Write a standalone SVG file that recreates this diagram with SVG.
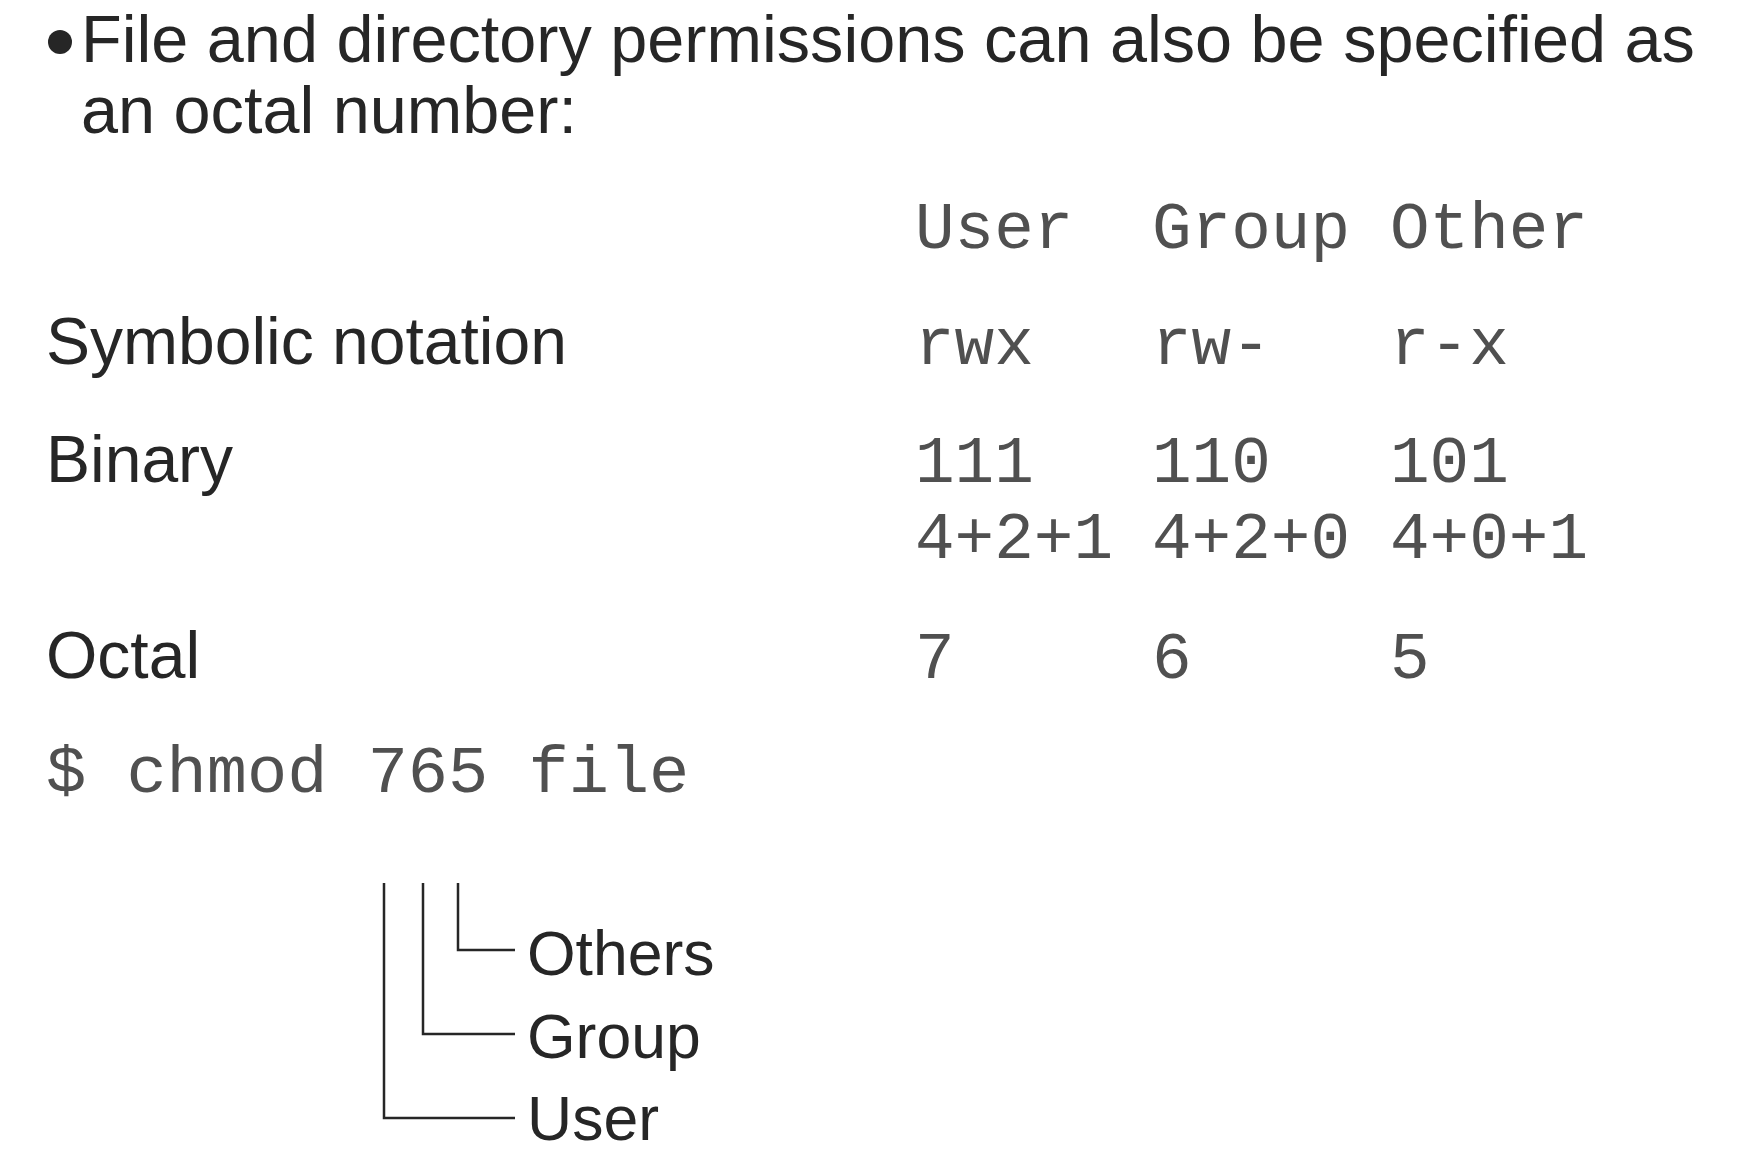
<svg xmlns="http://www.w3.org/2000/svg" width="1738" height="1175" viewBox="0 0 1738 1175">
  <style>
    .sans { font-family: "Liberation Sans", Arial, sans-serif; font-size: 66px; fill: #262626; }
    .title { font-size: 66.6px; }
    .lbl { font-family: "Liberation Sans", Arial, sans-serif; font-size: 62.5px; fill: #262626; }
    .mono { font-family: "Liberation Mono", "Courier New", monospace; font-size: 66px; fill: #505050; }
    .cmd { font-size: 67px; }
    .conn { fill: none; stroke: #262626; stroke-width: 2.5; }
  </style>
  <rect width="1738" height="1175" fill="#ffffff"/>

  <g id="intro">
    <circle cx="60" cy="42" r="12" fill="#262626"/>
    <text class="sans title" x="81" y="62">File and directory permissions can also be specified as</text>
    <text class="sans title" x="81" y="133">an octal number:</text>
  </g>

  <g id="header">
    <text class="mono" x="915" y="248">User</text>
    <text class="mono" x="1152" y="248">Group</text>
    <text class="mono" x="1390" y="248">Other</text>
  </g>

  <g id="row-symbolic">
    <text class="sans" x="46" y="364">Symbolic notation</text>
    <text class="mono" x="915" y="364">rwx</text>
    <text class="mono" x="1152" y="364">rw-</text>
    <text class="mono" x="1390" y="364">r-x</text>
  </g>

  <g id="row-binary">
    <text class="sans" x="46" y="482">Binary</text>
    <text class="mono" x="915" y="482">111</text>
    <text class="mono" x="1152" y="482">110</text>
    <text class="mono" x="1390" y="482">101</text>
    <text class="mono" x="915" y="558">4+2+1</text>
    <text class="mono" x="1152" y="558">4+2+0</text>
    <text class="mono" x="1390" y="558">4+0+1</text>
  </g>

  <g id="row-octal">
    <text class="sans" x="46" y="678">Octal</text>
    <text class="mono" x="915" y="678">7</text>
    <text class="mono" x="1152" y="678">6</text>
    <text class="mono" x="1390" y="678">5</text>
  </g>

  <g id="command">
    <text class="mono cmd" x="46" y="792" xml:space="preserve">$ chmod 765 file</text>
  </g>

  <g id="connectors">
    <polyline class="conn" points="384,883 384,1118 515,1118"/>
    <polyline class="conn" points="423,883 423,1034 515,1034"/>
    <polyline class="conn" points="458,883 458,950 515,950"/>
  </g>

  <g id="label-others">
    <text class="lbl" x="527" y="975">Others</text>
  </g>
  <g id="label-group">
    <text class="lbl" x="527" y="1058">Group</text>
  </g>
  <g id="label-user">
    <text class="lbl" x="527" y="1140">User</text>
  </g>
</svg>
